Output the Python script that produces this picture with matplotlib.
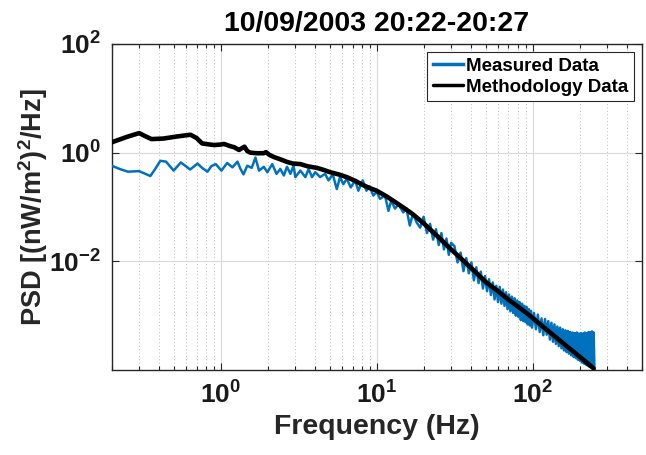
"""
PSD comparison plot: measured irradiance spectrum vs. methodology spectrum.
"""

import numpy as np
import matplotlib
matplotlib.use("Agg")
import matplotlib.pyplot as plt
from matplotlib.ticker import LogLocator, NullLocator, FixedLocator


# ---------------------------------------------------------------------
# Data (PSD stored as log10 values)
# ---------------------------------------------------------------------

TITLE = "10/09/2003 20:22-20:27"

method_freq = [
    0.20, 0.25, 0.30, 0.33, 0.36, 0.43, 0.53, 0.64, 0.70, 0.76,
    0.85, 0.91, 1.00, 1.05, 1.15, 1.22, 1.31, 1.38, 1.42, 1.48,
    1.55, 1.70, 1.89, 1.95, 2.05, 2.19, 2.40, 2.66, 2.90, 3.24,
    3.60, 4.14, 4.60, 5.04, 5.70, 6.43, 7.30, 8.21, 9.00, 10.0,
    11.5, 13.0, 15.0, 17.0, 20.0, 25.0, 30.0, 35.7, 42.0, 50.0,
    60.0, 71.0, 83.0, 95.0, 115.0, 140.0, 165.0, 188.0, 215.0, 246.0,
]
method_log_psd = [
    0.19, 0.29, 0.36, 0.30, 0.25, 0.26, 0.30, 0.33, 0.27, 0.17,
    0.15, 0.14, 0.15, 0.16, 0.12, 0.10, 0.05, 0.09, 0.11, 0.03,
    0.00, -0.01, -0.01, 0.01, -0.04, -0.08, -0.12, -0.17, -0.20, -0.21,
    -0.25, -0.28, -0.32, -0.36, -0.40, -0.45, -0.52, -0.60, -0.65, -0.70,
    -0.80, -0.90, -1.02, -1.13, -1.30, -1.56, -1.78, -1.98, -2.17, -2.38,
    -2.55, -2.72, -2.86, -2.99, -3.19, -3.39, -3.56, -3.69, -3.83, -3.97,
]

# measured spectrum, low-frequency part (0.2 - 18 Hz)
meas_freq_low = [
    0.20, 0.225, 0.254, 0.30, 0.354, 0.38, 0.41, 0.446, 0.499, 0.555,
    0.637, 0.71, 0.76, 0.823, 0.87, 0.929, 1.01, 1.10, 1.19, 1.28,
    1.34, 1.40, 1.48, 1.58, 1.67, 1.76, 1.89, 1.99, 2.14, 2.28,
    2.41, 2.54, 2.66, 2.80, 2.93, 3.01, 3.24, 3.49, 3.66, 3.85,
    4.04, 4.34, 4.67, 4.91, 5.23, 5.55, 5.82, 6.11, 6.43, 6.82,
    7.27, 7.63, 8.14, 8.60, 9.00, 9.52, 10.0, 10.5, 11.3, 11.9,
    12.4, 13.1, 13.8, 14.8, 15.5, 16.3, 17.1, 18.0,
]
meas_log_low = [
    -0.24, -0.30, -0.35, -0.34, -0.43, -0.30, -0.15, -0.165, -0.33, -0.18,
    -0.31, -0.20, -0.28, -0.35, -0.25, -0.21, -0.33, -0.19, -0.27, -0.165,
    -0.30, -0.40, -0.24, -0.28, -0.09, -0.33, -0.26, -0.36, -0.21, -0.39,
    -0.30, -0.42, -0.26, -0.39, -0.24, -0.45, -0.33, -0.45, -0.30, -0.45,
    -0.36, -0.45, -0.39, -0.51, -0.40, -0.67, -0.45, -0.58, -0.48, -0.64,
    -0.51, -0.70, -0.51, -0.70, -0.62, -0.79, -0.72, -0.85, -0.79, -1.07,
    -0.88, -1.03, -0.95, -1.10, -1.02, -1.34, -1.12, -1.28,
]

# measured spectrum, roll-off part (19 - 99 Hz)
meas_freq_mid = [
    19, 20, 21, 22, 23, 24, 25, 26, 27, 28, 29, 30,
    31.5, 33, 34.5, 36, 37.5, 39, 40.5, 42, 43.5, 45,
    46.5, 48, 49.5, 51, 52.5, 54, 55.5, 57, 58.5, 60,
    61.5, 63, 64.5, 66, 67.5, 69, 70.5, 72, 73.5, 75,
    76.5, 78, 79.5, 81, 82.5, 84, 85.5, 87, 88.5, 90,
    91.5, 93, 94.5, 96, 97.5, 99,
]
meas_log_mid = [
    -1.38, -1.18, -1.48, -1.31, -1.60, -1.41, -1.70, -1.48, -1.78, -1.58, -1.88, -1.66,
    -1.72, -2.02, -1.84, -2.18, -1.94, -2.22, -2.02, -2.35, -2.11, -2.40,
    -2.19, -2.50, -2.27, -2.55, -2.33, -2.62, -2.39, -2.70, -2.45, -2.75,
    -2.47, -2.78, -2.52, -2.82, -2.57, -2.88, -2.61, -2.92, -2.65, -2.95,
    -2.68, -3.00, -2.72, -3.02, -2.75, -3.08, -2.78, -3.10, -2.82, -3.12,
    -2.84, -3.16, -2.88, -3.18, -2.91, -3.22,
]

# measured spectrum, noise-floor part (102 - 249 Hz)
meas_freq_high = [
    102, 105, 108, 111, 114, 117, 120, 123, 126, 129,
    132, 135, 138, 141, 144, 147, 150, 153, 156, 159,
    162, 165, 168, 171, 174, 177, 180, 183, 186, 189,
    192, 195, 198, 201, 204, 207, 210, 213, 216, 219,
    222, 225, 228, 231, 234, 237, 240, 243, 246, 249,
]
meas_log_high = [
    -2.95, -3.25, -2.98, -3.30, -3.05, -3.36, -3.06, -3.35, -3.10, -3.44,
    -3.13, -3.48, -3.16, -3.52, -3.20, -3.56, -3.22, -3.60, -3.25, -3.64,
    -3.27, -3.67, -3.28, -3.70, -3.30, -3.73, -3.31, -3.76, -3.32, -3.78,
    -3.31, -3.81, -3.33, -3.83, -3.32, -3.86, -3.33, -3.88, -3.31, -3.90,
    -3.32, -3.92, -3.30, -3.94, -3.31, -3.95, -3.29, -3.97, -3.31, -3.98,
]

X_LIMITS = (0.2, 500)
Y_LIMITS = (1e-4, 1e2)
Y_TICKS = [1e-2, 1e0, 1e2]

MEAS_COLOR = "#0072BD"
GRID_COLOR = "#d9d9d9"
AXIS_COLOR = "#262626"


# ---------------------------------------------------------------------
# Plotting
# ---------------------------------------------------------------------

def setup_fonts():
    plt.rcParams["font.family"] = ["Liberation Sans", "DejaVu Sans"]
    plt.rcParams["font.weight"] = "bold"
    plt.rcParams["axes.unicode_minus"] = False
    plt.rcParams["mathtext.fontset"] = "custom"
    plt.rcParams["mathtext.rm"] = "Liberation Sans:bold"
    plt.rcParams["mathtext.it"] = "Liberation Sans:bold"
    plt.rcParams["mathtext.bf"] = "Liberation Sans:bold"
    plt.rcParams["mathtext.sf"] = "Liberation Sans:bold"
    plt.rcParams["mathtext.default"] = "regular"


def log_label(v, pos):
    return r"$10^{%d}$" % round(np.log10(v))


def plot_psd():
    setup_fonts()

    meas_freq = np.array(meas_freq_low + meas_freq_mid + meas_freq_high)
    meas_psd = 10.0 ** np.array(meas_log_low + meas_log_mid + meas_log_high)
    meth_psd = 10.0 ** np.array(method_log_psd)

    fig = plt.figure(figsize=(6.46, 4.55), dpi=100)
    ax = fig.add_axes([0.1729, 0.1868, 0.8204, 0.7165])

    ax.loglog(meas_freq, meas_psd, color=MEAS_COLOR, lw=1.8,
              label="Measured Data", zorder=3)
    ax.loglog(method_freq, meth_psd, color="black", lw=3.3,
              label="Methodology Data", zorder=4, solid_capstyle="round")

    ax.set_xlim(*X_LIMITS)
    ax.set_ylim(*Y_LIMITS)

    ax.xaxis.set_major_locator(LogLocator(base=10, numticks=10))
    ax.xaxis.set_minor_locator(LogLocator(base=10, subs=np.arange(2, 10), numticks=20))
    ax.yaxis.set_major_locator(FixedLocator(Y_TICKS))
    ax.yaxis.set_minor_locator(NullLocator())
    ax.xaxis.set_major_formatter(plt.FuncFormatter(log_label))
    ax.yaxis.set_major_formatter(plt.FuncFormatter(log_label))

    ax.grid(True, which="major", color=GRID_COLOR, lw=0.8, ls="-", zorder=0)
    ax.grid(True, which="minor", axis="x", color="#bdbdbd", lw=0.7, ls=(0, (1, 2.5)), zorder=0)

    ax.tick_params(which="both", direction="in", top=True, right=True,
                   colors=AXIS_COLOR, labelcolor="#1a1a1a", labelsize=19, width=0.8)
    ax.tick_params(which="major", length=5, pad=8)
    ax.tick_params(which="minor", length=3)
    for spine in ax.spines.values():
        spine.set_color(AXIS_COLOR)
        spine.set_linewidth(1.0)

    ax.set_xlabel("Frequency (Hz)", fontsize=20.5, fontweight="bold", color="#262626", labelpad=4)
    ax.set_ylabel(r"PSD [(nW/m$^2$)$^2$/Hz]", fontsize=19.5, fontweight="bold", color="#262626", labelpad=-1)
    ax.set_title(TITLE, fontsize=20.5, fontweight="bold", pad=9)

    leg = ax.legend(loc="upper right", bbox_to_anchor=(0.985, 0.975), fontsize=13.5,
                    frameon=True, fancybox=False, edgecolor="#262626", framealpha=1,
                    handlelength=1.6, handletextpad=0.15, borderpad=0.3,
                    labelspacing=0.2, borderaxespad=0.0)
    leg.get_frame().set_linewidth(0.8)
    for text in leg.get_texts():
        text.set_fontweight("bold")
    for line in leg.get_lines():
        line.set_linewidth(2.5)

    fig.savefig("out.png", dpi=100)


if __name__ == "__main__":
    plot_psd()
